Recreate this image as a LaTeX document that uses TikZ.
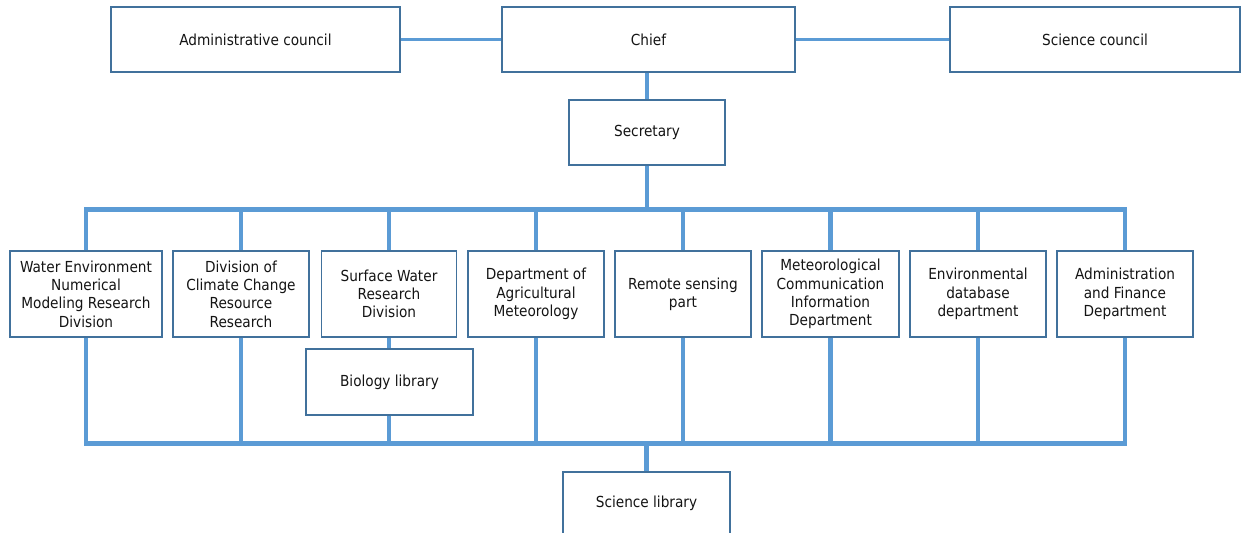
\documentclass[tikz,border=0pt]{standalone}
\usepackage{fontspec}
\setmainfont{DejaVu Sans Condensed}
\definecolor{linkblue}{HTML}{5B9BD5}
\definecolor{boxedge}{HTML}{41719C}
\definecolor{ink}{HTML}{141414}
\begin{document}
\begin{tikzpicture}[x=0.75pt,y=-0.75pt,
  orgbox/.style={draw=boxedge, line width=1.1pt, fill=white, rectangle,
    align=center, inner sep=2pt, text=ink,
    font=\fontsize{11.4pt}{13.7pt}\selectfont},
  rowbox/.style={orgbox, minimum height=86*0.75pt},
  link/.style={draw=linkblue, line width=2.3pt},
  bus/.style={draw=linkblue, line width=3.3pt, line join=miter}]
\useasboundingbox (0,0) rectangle (1241,532);
\begin{scope}
\clip (0,0) rectangle (1241,532);
% top level
\node[orgbox, minimum width=289*0.75pt, minimum height=65*0.75pt] (adm) at (255.5,39.5) {Administrative council};
\node[orgbox, minimum width=293*0.75pt, minimum height=65*0.75pt] (chief) at (648.5,39.5) {Chief};
\node[orgbox, minimum width=290*0.75pt, minimum height=65*0.75pt] (scc) at (1095,39.5) {Science council};
\node[orgbox, minimum width=156*0.75pt, minimum height=65*0.75pt] (sec) at (647,132.5) {Secretary};
% divisions
\node[rowbox, minimum width=152*0.75pt] (b1) at (86,294) {Water Environment\\Numerical\\Modeling Research\\Division};
\node[rowbox, minimum width=136*0.75pt] (b2) at (241,294) {Division of\\Climate Change\\Resource\\Research};
\node[rowbox, minimum width=135*0.75pt] (b3) at (389,294) {Surface Water\\Research\\Division};
\node[rowbox, minimum width=136*0.75pt] (b4) at (536,294) {Department of\\Agricultural\\Meteorology};
\node[rowbox, minimum width=136*0.75pt] (b5) at (683,294) {Remote sensing\\part};
\node[rowbox, minimum width=137*0.75pt] (b6) at (830.5,294) {Meteorological\\Communication\\Information\\Department};
\node[rowbox, minimum width=136*0.75pt] (b7) at (978,294) {Environmental\\database\\department};
\node[rowbox, minimum width=136*0.75pt] (b8) at (1125,294) {Administration\\and Finance\\Department};
\node[orgbox, minimum width=167*0.75pt, minimum height=66*0.75pt] (bio) at (389.5,382) {Biology library};
\node[orgbox, minimum width=167*0.75pt, minimum height=62*0.75pt] (slib) at (646.5,503) {Science library};
% bus levels
\coordinate (bt) at (647,209.5);
\coordinate (bb) at (647,443.5);
% top connectors
\draw[link] (adm.east) -- (chief.west);
\draw[link] (chief.east) -- (scc.west);
\draw[link] (chief.south -| sec.north) -- (sec.north);
% upper bus
\draw[bus] (sec.south) -- (sec.south |- bt);
\draw[bus] (b1.north) -- (b1.north |- bt) -- (b8.north |- bt) -- (b8.north);
\foreach \b in {b2,b3,b4,b5,b6,b7}
  \draw[bus] (\b.north) -- (\b.north |- bt);
% lower bus
\draw[bus] (b1.south) -- (b1.south |- bb) -- (b8.south |- bb) -- (b8.south);
\foreach \b in {b2,b4,b5,b6,b7}
  \draw[bus] (\b.south) -- (\b.south |- bb);
\draw[link] (b3.south) -- (b3.south |- bio.north);
\draw[bus] (b3.south |- bio.south) -- (b3.south |- bb);
\draw[bus, line width=3.8pt] (slib.north |- bb) -- (slib.north);
\end{scope}
\end{tikzpicture}
\end{document}
